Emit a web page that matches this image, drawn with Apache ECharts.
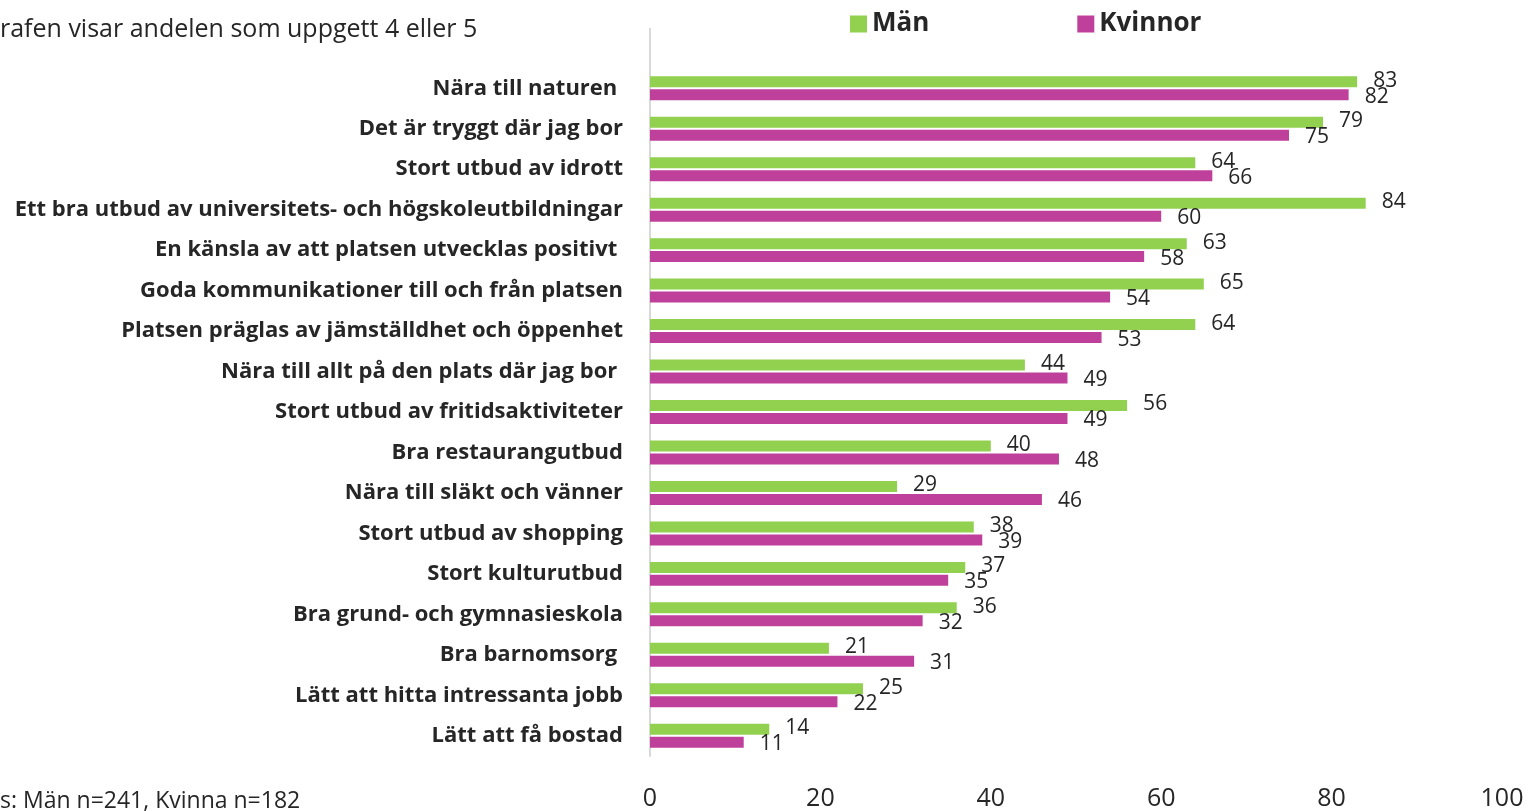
<!DOCTYPE html>
<html lang="sv">

<head>
    <meta charset="UTF-8">
    <title>Andel som uppgett 4 eller 5</title>
    <script src="https://cdn.jsdelivr.net/npm/echarts@6/dist/echarts.min.js"></script>
    <style>
        html,
        body {
            margin: 0;
            padding: 0;
            background: #fff;
        }
        #main {
            width: 1529px;
            height: 811px;
        }
    </style>
</head>

<body>
    <div id="main"></div>
    <script>
        // kategorier, uppifrån och ned
        var categories = [
            'Nära till naturen ',
            'Det är tryggt där jag bor',
            'Stort utbud av idrott',
            'Ett bra utbud av universitets- och högskoleutbildningar',
            'En känsla av att platsen utvecklas positivt ',
            'Goda kommunikationer till och från platsen',
            'Platsen präglas av jämställdhet och öppenhet',
            'Nära till allt på den plats där jag bor ',
            'Stort utbud av fritidsaktiviteter',
            'Bra restaurangutbud',
            'Nära till släkt och vänner',
            'Stort utbud av shopping',
            'Stort kulturutbud',
            'Bra grund- och gymnasieskola',
            'Bra barnomsorg ',
            'Lätt att hitta intressanta jobb',
            'Lätt att få bostad'
        ];
        var man = [83, 79, 64, 84, 63, 65, 64, 44, 56, 40, 29, 38, 37, 36, 21, 25, 14];
        var kvinnor = [82, 75, 66, 60, 58, 54, 53, 49, 49, 48, 46, 39, 35, 32, 31, 22, 11];
        var xTicks = [0, 20, 40, 60, 80, 100];

        var font = '"Open Sans", Lato, sans-serif';
        var textColor = '#262626';
        var gridTop = 68, gridBottom = 55, gridLeft = 650;

        var myChart = echarts.init(document.getElementById('main'));
        var option = {
            animation: false,
            textStyle: { fontFamily: font, color: textColor },
            title: [{
                text: 'rafen visar andelen som uppgett 4 eller 5',
                left: 0,
                top: 17,
                padding: 0,
                textStyle: { fontFamily: font, fontSize: 25, fontWeight: 'normal', color: textColor }
            }, {
                text: 's: Män n=241, Kvinna n=182',
                left: 0,
                top: 790,
                padding: 0,
                textStyle: { fontFamily: font, fontSize: 23, fontWeight: 'normal', color: textColor }
            }],
            legend: {
                left: 845,
                top: 6,
                itemWidth: 17,
                itemHeight: 17,
                itemGap: 148,
                icon: 'rect',
                selectedMode: false,
                textStyle: { fontFamily: font, fontSize: 26, fontWeight: 'bold', color: textColor },
                data: ['Män', 'Kvinnor']
            },
            grid: {
                left: gridLeft,
                right: 27,
                top: gridTop,
                bottom: gridBottom,
                containLabel: false
            },
            xAxis: {
                type: 'value',
                min: xTicks[0],
                max: xTicks[xTicks.length - 1],
                interval: xTicks[1] - xTicks[0],
                axisLine: { show: false },
                axisTick: { show: false },
                splitLine: { show: false },
                axisLabel: { margin: 30, fontSize: 25, color: textColor, fontFamily: font }
            },
            yAxis: {
                type: 'category',
                inverse: true,
                data: categories,
                axisLine: { show: true, lineStyle: { color: '#D9D9D9', width: 2 } },
                axisTick: { show: false },
                axisLabel: { margin: 27, fontSize: 22, fontWeight: 'bold', color: textColor, fontFamily: font }
            },
            series: [{
                name: 'Män',
                type: 'bar',
                data: man,
                barWidth: 11,
                barGap: '18%',
                itemStyle: { color: '#92D050' },
                label: {
                    show: true, position: 'right', distance: 16, offset: [0, -1],
                    fontSize: 21, color: textColor, fontFamily: font
                },
                emphasis: { disabled: true }
            }, {
                name: 'Kvinnor',
                type: 'bar',
                data: kvinnor,
                barWidth: 11,
                itemStyle: { color: '#BF409B' },
                label: {
                    show: true, position: 'right', distance: 16, offset: [0, 2],
                    fontSize: 21, color: textColor, fontFamily: font
                },
                emphasis: { disabled: true }
            }]
        };
        myChart.setOption(option);

        // axellinjen går upp ovanför diagramytan
        var x0 = myChart.convertToPixel({ xAxisIndex: 0 }, 0);
        myChart.setOption({
            graphic: [{
                type: 'line',
                shape: { x1: x0, y1: 28, x2: x0, y2: gridTop },
                style: { stroke: '#D9D9D9', lineWidth: 2 },
                silent: true
            }]
        });
    </script>
</body>

</html>
